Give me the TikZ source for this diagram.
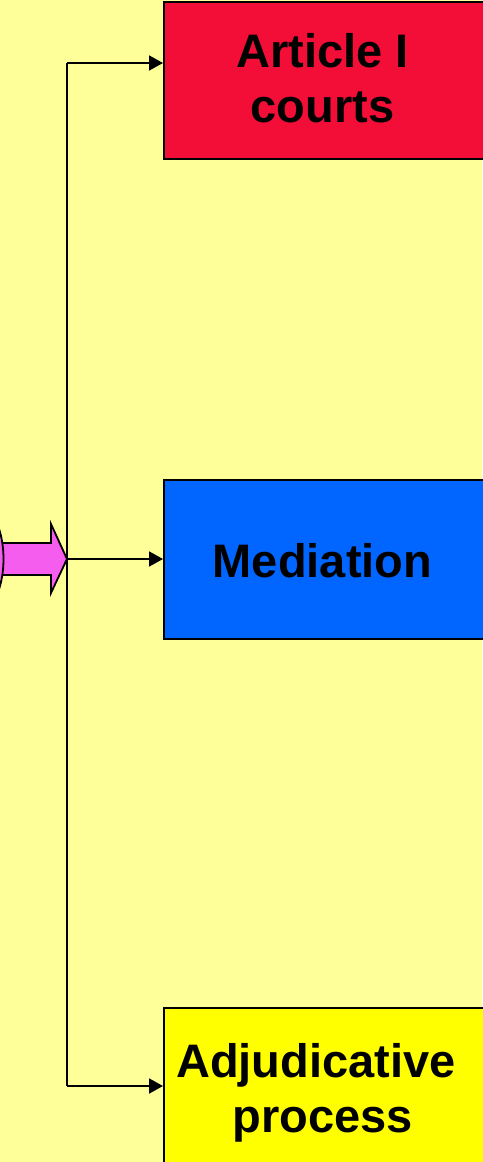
\documentclass[tikz,border=0pt]{standalone}
\usepackage{fontspec}
\setmainfont{Liberation Sans}
\usetikzlibrary{arrows.meta}
\definecolor{bgc}{HTML}{FFFF99}
\definecolor{redc}{HTML}{F20E37}
\definecolor{bluec}{HTML}{0066FF}
\definecolor{yelc}{HTML}{FFFF00}
\definecolor{pinkc}{HTML}{F45DEE}
\begin{document}
\begin{tikzpicture}[x=1pt,y=-1pt,line width=1.8pt,
  box/.style={draw=black,rectangle,anchor=north west,minimum width=340pt,inner sep=0pt},
  lbl/.style={anchor=base,inner sep=0pt,font=\fontsize{47}{55}\selectfont\bfseries},
  conn/.style={-{Triangle[length=14pt,width=15pt]}}]
\useasboundingbox (0,0) rectangle (482,1162);
\fill[bgc] (0,0) rectangle (482,1162);
% boxes
\node[box,fill=redc,minimum height=157.5pt] (art) at (163,0.75) {};
\node[box,fill=bluec,minimum height=159pt] (med) at (163,479) {};
\node[box,fill=yelc,minimum height=200pt] (adj) at (163,1007) {};
% labels
\node[lbl] (artA) at (322.5,67) {Article I};
\node[lbl] (artB) at (322.5,122) {courts};
\node[lbl] (medA) at (322.5,577) {Mediation};
\node[lbl] (adjA) at (316,1077) {Adjudicative};
\node[lbl] (adjB) at (323,1132) {process};
% trunk
\coordinate (jt) at (67,63);
\coordinate (jm) at (67,559);
\coordinate (jb) at (67,1086);
\draw (jt) -- (jb);
\draw[conn] (jt) -- (jt -| art.west);
\draw[conn] (jm) -- (jm -| med.west);
\draw[conn] (jb) -- (jb -| adj.west);
% pink block arrow
\draw[fill=pinkc,line join=miter] (-10,543) -- (51,543) -- (51,524) -- (jm) -- (51,593) -- (51,575) -- (-10,575) -- cycle;
\draw[fill=pinkc] (-31.5,559) ellipse [x radius=35pt, y radius=62pt];
\end{tikzpicture}
\end{document}
